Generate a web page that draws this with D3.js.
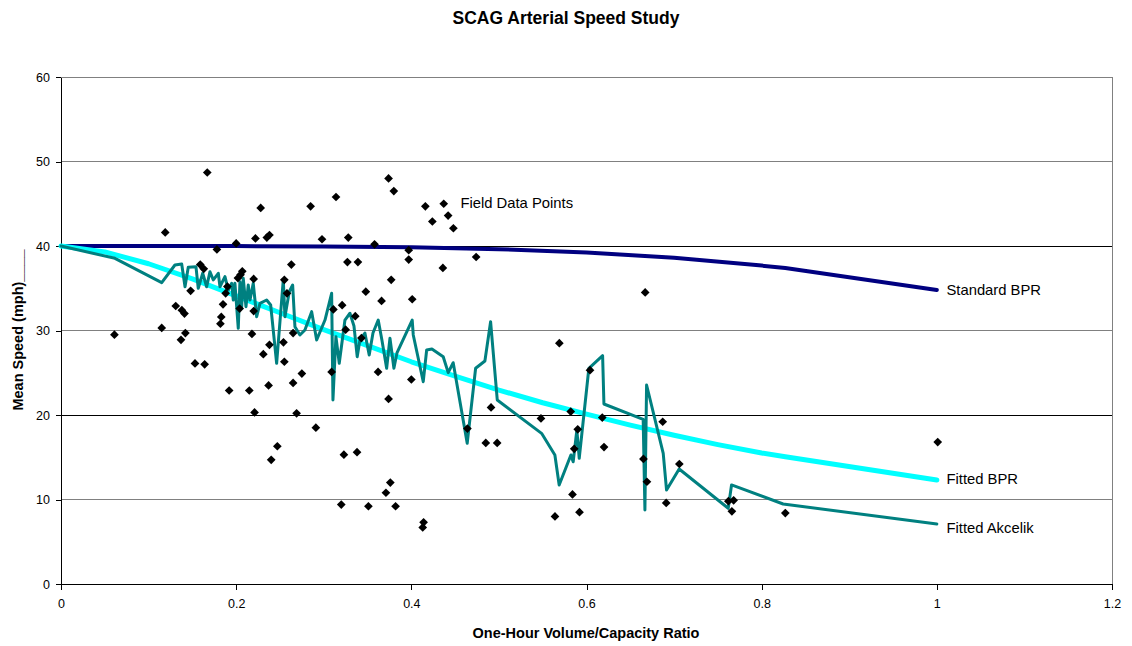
<!DOCTYPE html>
<html><head><meta charset="utf-8">
<script src="https://cdn.jsdelivr.net/npm/d3@7"></script>
<style>body{margin:0;background:#fff;} svg{display:block;font-family:"Liberation Sans",Arial,sans-serif;}</style>
</head><body><svg id="c" width="1132" height="646"></svg>
<script>
// ---- Data ----
const chartTitle = "SCAG Arterial Speed Study";
const xTitle = "One-Hour Volume/Capacity Ratio";
const yTitle = "Mean Speed (mph)____";
const xTicks = [0, 0.2, 0.4, 0.6, 0.8, 1, 1.2];
const xTickLabels = ["0", "0.2", "0.4", "0.6", "0.8", "1", "1.2"];
const yTicks = [0, 10, 20, 30, 40, 50, 60];

const fieldVC = [0.061,0.115,0.119,0.131,0.137,0.138,0.142,0.141,0.148,0.153,0.159,0.163,0.164,0.167,0.178,0.183,0.182,0.185,0.188,0.190,0.192,0.200,0.202,0.205,0.207,0.204,0.215,0.218,0.220,0.220,0.222,0.221,0.228,0.231,0.235,0.238,0.238,0.237,0.240,0.247,0.254,0.255,0.255,0.258,0.263,0.265,0.265,0.269,0.275,0.285,0.291,0.298,0.309,0.311,0.314,0.320,0.321,0.323,0.325,0.327,0.328,0.336,0.338,0.339,0.343,0.348,0.351,0.358,0.362,0.366,0.371,0.374,0.374,0.376,0.377,0.380,0.382,0.397,0.397,0.400,0.401,0.414,0.413,0.416,0.424,0.436,0.437,0.442,0.448,0.464,0.474,0.485,0.491,0.498,0.548,0.564,0.569,0.582,0.584,0.586,0.590,0.592,0.604,0.618,0.620,0.665,0.667,0.669,0.687,0.691,0.706,0.762,0.768,0.766,0.827,1.001];
const fieldSpeed = [29.5,30.3,41.6,32.9,28.9,32.4,29.7,32.0,34.7,26.1,37.8,37.3,26.0,48.7,39.6,31.6,30.8,33.1,34.4,35.2,22.9,40.3,36.2,36.6,37.0,32.6,22.9,29.6,36.1,32.3,40.9,20.3,44.5,27.2,41.0,41.3,28.3,23.5,14.7,16.3,28.6,26.3,36.0,34.4,37.8,29.7,23.8,20.2,24.9,44.7,18.5,40.8,25.1,32.5,45.8,9.4,33.0,15.3,30.1,38.1,41.0,31.7,15.6,38.1,29.1,34.6,9.2,40.2,25.1,33.5,10.8,21.9,48.0,12.0,36.0,46.5,9.2,39.5,38.4,24.2,33.7,7.3,6.7,44.7,42.9,37.4,45.0,43.6,42.1,18.4,38.7,16.7,20.9,16.7,19.6,8.0,28.5,20.4,10.6,16.0,18.3,8.5,25.3,19.7,16.2,14.8,34.5,12.1,19.2,9.6,14.2,9.8,9.9,8.6,8.4,16.8];

const stdBprVC = [0, 0.1, 0.2, 0.3, 0.4, 0.5, 0.6, 0.7, 0.8, 0.827, 1.0];
const stdBprSpeed = [40.0, 40.0, 39.99, 39.95, 39.85, 39.63, 39.24, 38.61, 37.68, 37.4, 34.8];

const fitBprVC = [0, 0.05, 0.1, 0.15, 0.2, 0.25, 0.3, 0.35, 0.4, 0.45, 0.5, 0.55, 0.6, 0.65, 0.7, 0.75, 0.8, 0.827, 1.0];
const fitBprSpeed = [40.0, 39.3, 37.9, 36.1, 34.1, 32.1, 30.1, 28.2, 26.3, 24.6, 22.95, 21.45, 20.1, 18.8, 17.6, 16.5, 15.5, 15.05, 12.3];

const akcVC = [0,0.0616,0.115,0.1301,0.1378,0.1416,0.1453,0.1541,0.1567,0.1618,0.1663,0.1701,0.1739,0.1796,0.1815,0.1872,0.191,0.1949,0.1967,0.1986,0.2024,0.2043,0.2063,0.2081,0.2112,0.2138,0.2158,0.2195,0.2234,0.2272,0.2348,0.2394,0.2462,0.2538,0.2557,0.2606,0.2645,0.2671,0.2728,0.2785,0.2862,0.2919,0.3014,0.309,0.3105,0.3139,0.3177,0.3242,0.3299,0.3345,0.3382,0.3413,0.347,0.3519,0.3562,0.3622,0.3664,0.3718,0.3756,0.3801,0.3836,0.401,0.4022,0.4136,0.4175,0.4235,0.4364,0.4421,0.4478,0.4638,0.4734,0.484,0.4905,0.4981,0.5487,0.5639,0.5688,0.5822,0.5848,0.5868,0.589,0.5917,0.6027,0.6184,0.6199,0.6647,0.6667,0.6686,0.6876,0.6914,0.7058,0.7618,0.7656,0.8245,1.0];
const akcSpeed = [40.0,38.54,35.66,37.75,37.87,35.18,37.48,37.55,34.99,36.77,35.18,36.96,35.98,36.77,35.18,36.37,34.79,35.59,33.61,35.59,30.26,35.78,32.82,36.18,32.82,35.38,33.61,35.59,31.63,33.22,33.61,33.02,26.12,35.98,31.63,34.59,35.38,30.45,29.47,30.06,32.23,28.88,31.24,34.4,21.78,29.27,26.12,31.24,32.04,30.53,26.9,28.88,29.7,27.1,29.7,31.24,28.88,25.53,29.08,25.53,27.34,31.24,29.47,23.94,27.69,27.81,26.9,25.01,26.19,16.65,25.53,26.39,31.04,21.78,17.83,15.27,11.72,15.27,14.47,16.25,18.22,14.88,25.53,27.02,21.3,19.49,8.76,23.55,15.47,11.12,13.61,8.96,11.72,9.47,7.1];

const seriesLabels = ["Field Data Points", "Standard BPR", "Fitted BPR", "Fitted Akcelik"];
const seriesColors = ["#000000", "#000080", "#00FFFF", "#008080"];

// ---- Chart ----
const svg = d3.select("#c");
const x = d3.scaleLinear().domain([0, 1.2]).range([61, 1112]);
const y = d3.scaleLinear().domain([0, 60]).range([584, 77]);

// gridlines
svg.append("g").selectAll("line").data(yTicks.filter(d => d > 0)).join("line")
  .attr("x1", x(0)).attr("x2", x(1.2))
  .attr("y1", d => y(d)).attr("y2", d => y(d))
  .attr("stroke", d => (d === 20 || d === 40) ? "#000" : "#808080")
  .attr("stroke-width", 1).attr("shape-rendering", "crispEdges");
// right border
svg.append("line").attr("x1", x(1.2)).attr("x2", x(1.2)).attr("y1", y(0)).attr("y2", y(60))
  .attr("stroke", "#808080").attr("shape-rendering", "crispEdges");

// axes
const yAxis = svg.append("g").attr("transform", `translate(${x(0)},0)`)
  .call(d3.axisLeft(y).tickValues(yTicks).tickSize(5).tickSizeOuter(0).tickPadding(6).tickFormat(d3.format("d")));
const xAxis = svg.append("g").attr("transform", `translate(0,${y(0)})`)
  .call(d3.axisBottom(x).tickValues(xTicks).tickSize(6).tickSizeOuter(0).tickPadding(9).tickFormat((d, i) => xTickLabels[i]));
[yAxis, xAxis].forEach(g => {
  g.selectAll("path,line").attr("stroke", "#000").attr("shape-rendering", "crispEdges");
  g.selectAll("text").attr("font-size", 12.5).attr("fill", "#000").attr("font-family", "Liberation Sans, Arial, sans-serif");
});

// lines
function drawLine(xs, ys, color, w) {
  const pts = xs.map((v, i) => [v, ys[i]]);
  svg.append("path").datum(pts)
    .attr("d", d3.line().x(d => x(d[0])).y(d => y(d[1])))
    .attr("fill", "none").attr("stroke", color).attr("stroke-width", w)
    .attr("stroke-linejoin", "round").attr("stroke-linecap", "round");
}
drawLine(stdBprVC, stdBprSpeed, seriesColors[1], 4);
drawLine(fitBprVC, fitBprSpeed, seriesColors[2], 5);
drawLine(akcVC, akcSpeed, seriesColors[3], 3);

// points
const sym = d3.symbol().type(d3.symbolSquare).size(38);
svg.append("g").selectAll("path").data(fieldVC.map((v, i) => [v, fieldSpeed[i]])).join("path")
  .attr("d", sym)
  .attr("transform", d => `translate(${x(d[0])},${y(d[1])}) rotate(45)`)
  .attr("fill", "#000");

// series labels
const lab = svg.append("g").attr("font-size", 14.8).attr("fill", "#000");
lab.append("text").attr("x", x(0.456)).attr("y", y(45.1)).attr("dy", "0.35em").text(seriesLabels[0]);
lab.append("text").attr("x", x(1.011)).attr("y", y(34.8)).attr("dy", "0.35em").text(seriesLabels[1]);
lab.append("text").attr("x", x(1.011)).attr("y", y(12.5)).attr("dy", "0.35em").text(seriesLabels[2]);
lab.append("text").attr("x", x(1.011)).attr("y", y(6.7)).attr("dy", "0.35em").text(seriesLabels[3]);

// titles
svg.append("text").attr("x", 566).attr("y", 24).attr("text-anchor", "middle")
  .attr("font-size", 17.5).attr("font-weight", "bold").text(chartTitle);
svg.append("text").attr("x", 586).attr("y", 638).attr("text-anchor", "middle")
  .attr("font-size", 14.5).attr("font-weight", "bold").text(xTitle);
svg.append("text").attr("transform", "translate(23,330) rotate(-90)").attr("text-anchor", "middle")
  .attr("font-size", 14.5).attr("font-weight", "bold").text(yTitle);
</script></body></html>
